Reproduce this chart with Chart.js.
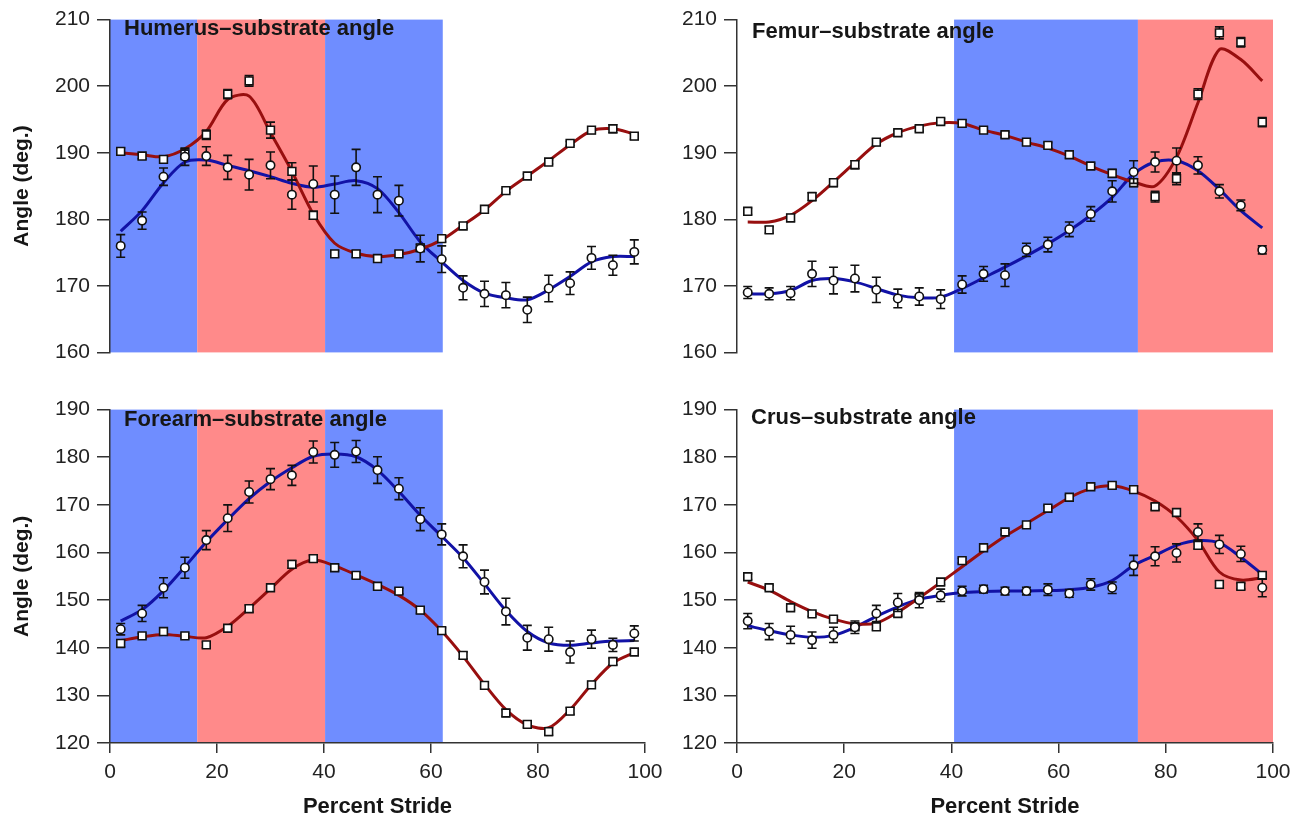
<!DOCTYPE html>
<html>
<head>
<meta charset="utf-8">
<title>Limb segment angles over the stride</title>
<script src="https://cdn.jsdelivr.net/npm/chart.js@4/dist/chart.umd.min.js"></script>
<style>
  body { margin: 0; background: #fff; width: 1301px; height: 820px; position: relative; overflow: hidden; }
  canvas { position: absolute; }
</style>
</head>
<body>
<canvas id="humerus" width="685" height="372" style="left:0;top:0"></canvas>
<canvas id="femur" width="674" height="372" style="left:627px;top:0"></canvas>
<canvas id="forearm" width="685" height="430" style="left:0;top:390px"></canvas>
<canvas id="crus" width="674" height="430" style="left:627px;top:390px"></canvas>
<script>
// percent stride sample points (every 4 %)
const strideX = [2, 6, 10, 14, 18, 22, 26, 30, 34, 38, 42, 46, 50, 54, 58, 62, 66, 70, 74, 78, 82, 86, 90, 94, 98];

// shaded stride phases: [start %, end %, colour]
const foreBands = [[0, 16.3, 'blue'], [16.3, 40.2, 'red'], [40.2, 62.2, 'blue']];
const hindBands = [[40.5, 74.8, 'blue'], [74.8, 100, 'red']];

// Humerus-substrate angle
const humerusRed    = [190.2, 189.5, 189.0, 189.8, 192.7, 198.8, 200.8, 193.4, 187.2, 180.6, 174.8, 174.8, 174.1, 174.8, 175.7, 177.1, 179.0, 181.5, 184.3, 186.5, 188.6, 191.4, 193.4, 193.6, 192.5];
const humerusRedErr = [0.5, 0.4, 0.5, 0.8, 0.7, 0.7, 0.8, 1.2, 1.3, 0.6, 0.5, 0.5, 0.5, 0.4, 0.5, 0.5, 0.4, 0.3, 0.3, 0.3, 0.3, 0.3, 0.5, 0.6, 0.5];
const humerusRedFit = [190.0, 189.7, 189.4, 190.6, 193.2, 198.0, 198.5, 193.0, 187.2, 180.8, 176.4, 174.9, 174.4, 174.7, 175.5, 176.9, 179.1, 181.4, 184.2, 186.5, 188.8, 191.2, 193.3, 193.6, 192.8];
const humerusBlue    = [176.0, 179.8, 186.4, 189.4, 189.5, 187.8, 186.7, 188.1, 183.7, 185.3, 183.7, 187.8, 183.7, 182.8, 175.6, 174.0, 169.7, 168.8, 168.6, 166.4, 169.6, 170.4, 174.2, 173.1, 175.1];
const humerusBlueErr = [1.7, 1.3, 1.3, 1.3, 1.4, 1.8, 2.3, 2.0, 2.2, 2.7, 2.8, 2.7, 2.7, 2.3, 2.0, 2.0, 1.8, 1.9, 1.9, 1.9, 2.0, 1.7, 1.7, 1.5, 1.8];
const humerusBlueFit = [178.2, 181.3, 185.5, 188.6, 188.9, 188.1, 187.3, 186.4, 185.4, 184.8, 185.3, 185.8, 184.6, 181.0, 176.6, 173.6, 170.8, 168.9, 168.2, 167.9, 169.4, 171.4, 173.6, 174.4, 174.4];

// Femur-substrate angle
const femurRed    = [181.2, 178.4, 180.2, 183.4, 185.5, 188.2, 191.6, 193.0, 193.6, 194.7, 194.4, 193.4, 192.7, 191.6, 191.1, 189.7, 188.0, 186.9, 185.5, 183.4, 186.1, 198.8, 208.0, 206.6, 194.6];
const femurRedErr = [0.5, 0.5, 0.5, 0.6, 0.6, 0.6, 0.5, 0.4, 0.4, 0.4, 0.5, 0.4, 0.4, 0.4, 0.4, 0.5, 0.4, 0.6, 0.6, 0.8, 0.9, 0.8, 0.9, 0.7, 0.7];
const femurRedFit = [179.6, 179.6, 180.6, 182.8, 185.6, 188.5, 191.3, 193.0, 194.0, 194.5, 194.4, 193.4, 192.6, 191.6, 190.7, 189.5, 188.0, 186.7, 185.6, 185.0, 189.3, 197.5, 205.5, 204.0, 200.8];
const femurBlue    = [169.0, 168.8, 168.9, 171.8, 170.8, 171.1, 169.4, 168.1, 168.4, 168.0, 170.2, 171.8, 171.6, 175.4, 176.2, 178.5, 180.8, 184.2, 187.1, 188.6, 188.8, 188.1, 184.2, 182.1, 175.4];
const femurBlueErr = [0.9, 0.9, 1.0, 1.9, 2.0, 2.0, 1.9, 1.4, 1.3, 1.4, 1.3, 1.1, 1.7, 1.0, 1.1, 1.1, 1.1, 1.6, 1.7, 1.5, 1.9, 1.3, 1.0, 0.8, 0.6];
const femurBlueFit = [168.8, 168.8, 169.3, 170.8, 171.1, 170.6, 169.6, 168.6, 168.2, 168.3, 169.6, 171.2, 172.8, 174.5, 176.3, 178.3, 180.6, 183.3, 186.8, 188.6, 188.8, 187.3, 184.5, 181.3, 178.7];

// Forearm-substrate angle
const forearmRed    = [140.9, 142.5, 143.4, 142.5, 140.6, 144.1, 148.2, 152.6, 157.5, 158.7, 156.8, 155.2, 152.9, 151.9, 147.9, 143.6, 138.4, 132.1, 126.3, 123.9, 122.4, 126.7, 132.2, 137.1, 139.1];
const forearmRedErr = [0.7, 0.5, 0.5, 0.5, 0.6, 0.6, 0.7, 0.7, 0.8, 0.7, 0.6, 0.6, 0.6, 0.6, 0.7, 0.6, 0.7, 0.7, 0.7, 0.6, 0.8, 0.7, 0.7, 0.7, 0.6];
const forearmRedFit = [141.5, 142.3, 142.8, 142.4, 142.1, 144.5, 148.3, 152.4, 156.5, 158.4, 157.2, 155.3, 153.3, 151.0, 147.9, 143.5, 138.2, 132.3, 127.0, 123.8, 123.2, 127.0, 132.3, 136.8, 139.0];
const forearmBlue    = [143.9, 147.2, 152.6, 156.8, 162.6, 167.2, 172.7, 175.4, 176.2, 181.1, 180.5, 181.2, 177.3, 173.4, 167.0, 163.8, 159.2, 153.8, 147.6, 142.1, 141.8, 139.1, 141.8, 140.6, 143.0];
const forearmBlueErr = [1.2, 1.7, 2.1, 2.2, 2.0, 2.8, 2.3, 2.2, 2.1, 2.3, 2.6, 2.3, 2.8, 2.3, 2.4, 2.2, 2.4, 2.5, 2.8, 2.6, 2.5, 2.3, 1.9, 1.4, 1.6];
const forearmBlueFit = [145.6, 148.0, 152.0, 157.0, 162.2, 166.9, 171.3, 174.9, 177.8, 180.2, 180.7, 180.1, 177.3, 172.8, 167.8, 163.4, 158.9, 153.4, 147.8, 143.4, 141.0, 140.5, 141.0, 141.4, 141.5];

// Crus-substrate angle
const crusRed    = [154.9, 152.6, 148.4, 147.1, 146.0, 144.4, 144.4, 147.2, 150.5, 153.8, 158.3, 161.0, 164.3, 165.8, 169.3, 171.6, 173.8, 174.1, 173.2, 169.6, 168.4, 161.5, 153.3, 152.9, 155.2];
const crusRedErr = [0.6, 0.5, 0.5, 0.5, 0.6, 0.6, 0.7, 0.6, 0.6, 0.6, 0.5, 0.5, 0.5, 0.5, 0.5, 0.5, 0.5, 0.6, 0.7, 0.6, 0.7, 0.7, 0.7, 0.6, 0.6];
const crusRedFit = [153.8, 152.1, 149.7, 147.6, 146.0, 145.0, 145.2, 147.5, 150.5, 153.7, 157.0, 160.3, 163.4, 166.1, 168.8, 171.5, 173.4, 174.0, 172.9, 170.8, 167.5, 162.5, 155.9, 154.2, 154.7];
const crusBlue    = [145.6, 143.4, 142.7, 141.6, 142.7, 144.3, 147.2, 149.5, 150.0, 151.0, 151.9, 152.3, 151.9, 151.9, 152.2, 151.4, 153.3, 152.6, 157.3, 159.2, 159.9, 164.3, 161.7, 159.7, 152.6];
const crusBlueErr = [1.6, 1.7, 1.8, 1.7, 1.6, 1.3, 1.7, 1.9, 1.6, 1.3, 1.0, 0.8, 0.8, 0.8, 1.2, 0.8, 1.2, 1.2, 2.1, 2.0, 1.9, 1.7, 1.9, 1.6, 1.9];
const crusBlueFit = [144.6, 143.6, 142.7, 142.2, 142.6, 144.3, 146.6, 148.6, 150.2, 151.0, 151.6, 151.8, 151.9, 151.9, 152.0, 152.2, 152.7, 154.1, 157.3, 159.4, 161.5, 162.5, 162.0, 159.0, 155.4];

const COLORS = {
    red: '#980f0f',
    blue: '#1212a6',
    bandBlue: '#6f8dff',
    bandRed: '#ff8a8a',
    axis: '#333',
    text: '#161616'
};
const FONT = "'Liberation Sans', Arial, Helvetica, sans-serif";
Chart.defaults.font.family = FONT;
Chart.defaults.color = COLORS.text;

// phase shading behind the plot
const bandsPlugin = {
    id: 'bands',
    beforeDraw(chart, args, opts) {
        const { ctx, chartArea: a, scales: { x } } = chart;
        ctx.save();
        (opts.list || []).forEach(([from, to, c]) => {
            const x0 = x.getPixelForValue(from);
            const x1 = x.getPixelForValue(to);
            ctx.fillStyle = c === 'red' ? COLORS.bandRed : COLORS.bandBlue;
            ctx.fillRect(x0, a.top, x1 - x0, a.bottom - a.top);
        });
        ctx.restore();
    }
};

// vertical error bars with caps, drawn just under each marker set
const errorBarsPlugin = {
    id: 'errorBars',
    beforeDatasetDraw(chart, args) {
        const ds = chart.data.datasets[args.index];
        if (!ds.errors) return;
        const { ctx, scales: { x, y } } = chart;
        ctx.save();
        ctx.strokeStyle = '#111';
        ctx.lineWidth = 1.6;
        ds.data.forEach((p, i) => {
            const e = ds.errors[i];
            const px = x.getPixelForValue(p.x);
            const hi = y.getPixelForValue(p.y + e);
            const lo = y.getPixelForValue(p.y - e);
            ctx.beginPath();
            ctx.moveTo(px, hi); ctx.lineTo(px, lo);
            ctx.moveTo(px - 4.5, hi); ctx.lineTo(px + 4.5, hi);
            ctx.moveTo(px - 4.5, lo); ctx.lineTo(px + 4.5, lo);
            ctx.stroke();
        });
        ctx.restore();
    }
};

// bold panel heading in the upper-left corner of the plot
const panelLabelPlugin = {
    id: 'panelLabel',
    afterDraw(chart, args, opts) {
        const { ctx, chartArea: a } = chart;
        ctx.save();
        ctx.font = `bold 22px ${FONT}`;
        ctx.fillStyle = COLORS.text;
        ctx.textBaseline = 'middle';
        ctx.fillText(opts.text, a.left + opts.dx, a.top + opts.dy);
        ctx.restore();
    }
};

const toPoints = vals => strideX.map((x, i) => ({ x, y: vals[i] }));

function fitLine(vals, color) {
    return {
        type: 'line', data: toPoints(vals), borderColor: color, borderWidth: 3,
        pointRadius: 0, tension: 0.3, order: 3
    };
}

function markers(vals, errs, style) {
    return {
        type: 'line', data: toPoints(vals), errors: errs, showLine: false,
        pointStyle: style, pointRadius: style === 'rect' ? 5.5 : 4.2,
        pointBackgroundColor: '#fff', pointBorderColor: '#111', pointBorderWidth: 1.6,
        order: style === 'rect' ? 2 : 1
    };
}

function yAxis(min, max, title) {
    return {
        min, max,
        ticks: { stepSize: 10, color: '#222', font: { size: 21 }, padding: 7 },
        grid: { drawOnChartArea: false, tickLength: 13, color: COLORS.axis, lineWidth: 1.5 },
        border: { color: COLORS.axis, width: 1.5 },
        title: { display: !!title, text: title, color: COLORS.text, font: { size: 21, weight: 'bold' }, padding: { top: 10 } },
        afterFit: s => { s.width = 110; }
    };
}

function xAxis(show) {
    if (!show) return { type: 'linear', min: 0, max: 100, display: false };
    return {
        type: 'linear', min: 0, max: 100,
        ticks: { stepSize: 20, color: '#222', font: { size: 21 }, padding: 7, maxRotation: 0 },
        grid: { drawOnChartArea: false, tickLength: 10, color: COLORS.axis, lineWidth: 1.5 },
        border: { color: COLORS.axis, width: 1.5 },
        title: { display: true, text: 'Percent Stride', color: COLORS.text, font: { size: 22, weight: 'bold' }, padding: { top: 0, bottom: 0 } },
        afterFit: s => { s.height = 77; }
    };
}

function makePanel(id, cfg) {
    new Chart(document.getElementById(id), {
        data: {
            datasets: [
                fitLine(cfg.redFit, COLORS.red),
                fitLine(cfg.blueFit, COLORS.blue),
                markers(cfg.red, cfg.redErr, 'rect'),
                markers(cfg.blue, cfg.blueErr, 'circle')
            ]
        },
        options: {
            responsive: false,
            animation: false,
            devicePixelRatio: 1,
            layout: { padding: cfg.padding },
            scales: { x: xAxis(cfg.showX), y: yAxis(cfg.yMin, cfg.yMax, cfg.yTitle) },
            plugins: {
                legend: { display: false },
                tooltip: { enabled: false },
                bands: { list: cfg.bands },
                panelLabel: { text: cfg.label, dx: cfg.labelDx, dy: cfg.labelDy }
            }
        },
        plugins: [bandsPlugin, errorBarsPlugin, panelLabelPlugin]
    });
}

makePanel('humerus', {
    red: humerusRed, redErr: humerusRedErr, redFit: humerusRedFit,
    blue: humerusBlue, blueErr: humerusBlueErr, blueFit: humerusBlueFit,
    bands: foreBands, yMin: 160, yMax: 210, yTitle: 'Angle (deg.)', showX: false,
    label: 'Humerus\u2013substrate angle', labelDx: 14, labelDy: 9,
    padding: { top: 19, right: 40, bottom: 19, left: 0 }
});

makePanel('femur', {
    red: femurRed, redErr: femurRedErr, redFit: femurRedFit,
    blue: femurBlue, blueErr: femurBlueErr, blueFit: femurBlueFit,
    bands: hindBands, yMin: 160, yMax: 210, yTitle: '', showX: false,
    label: 'Femur\u2013substrate angle', labelDx: 15, labelDy: 12,
    padding: { top: 19, right: 28, bottom: 19, left: 0 }
});

makePanel('forearm', {
    red: forearmRed, redErr: forearmRedErr, redFit: forearmRedFit,
    blue: forearmBlue, blueErr: forearmBlueErr, blueFit: forearmBlueFit,
    bands: foreBands, yMin: 120, yMax: 190, yTitle: 'Angle (deg.)', showX: true,
    label: 'Forearm\u2013substrate angle', labelDx: 14, labelDy: 10,
    padding: { top: 19.5, right: 40, bottom: 0, left: 0 }
});

makePanel('crus', {
    red: crusRed, redErr: crusRedErr, redFit: crusRedFit,
    blue: crusBlue, blueErr: crusBlueErr, blueFit: crusBlueFit,
    bands: hindBands, yMin: 120, yMax: 190, yTitle: '', showX: true,
    label: 'Crus\u2013substrate angle', labelDx: 14, labelDy: 8,
    padding: { top: 19.5, right: 28, bottom: 0, left: 0 }
});
</script>
</body>
</html>
